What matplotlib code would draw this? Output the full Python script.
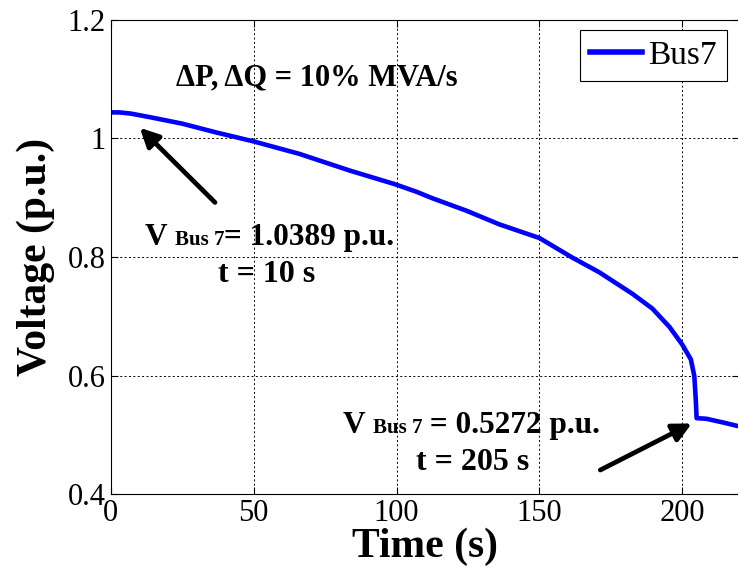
import matplotlib
matplotlib.use('Agg')
import matplotlib.pyplot as plt

plt.rcParams['font.family'] = 'Liberation Serif'

# Bus 7 voltage
time_s = [0, 3, 7, 13.6, 25, 37, 50, 66, 83.5, 99.3, 107, 112.6, 124.5, 136,
          150, 161.5, 171, 182.5, 189.5, 195.5, 200, 203, 204.2, 204.7, 205,
          208.4, 214, 220]
voltage_pu = [1.044, 1.044, 1.042, 1.036, 1.025, 1.010, 0.995, 0.974, 0.946,
              0.923, 0.910, 0.899, 0.878, 0.855, 0.832, 0.799, 0.774, 0.738,
              0.713, 0.682, 0.652, 0.627, 0.599, 0.560, 0.528, 0.527, 0.521,
              0.514]

x_ticks = [0, 50, 100, 150, 200]
y_ticks = [0.4, 0.6, 0.8, 1.0, 1.2]
y_tick_labels = ['0.4', '0.6', '0.8', '1', '1.2']

fig = plt.figure(figsize=(7.38, 5.81), dpi=100)
ax = fig.add_axes([0.150, 0.1497, 0.852, 0.816])

ax.plot(time_s, voltage_pu, color='#0000ff', lw=3.3, label='Bus7')

ax.set_xlim(0, 220)
ax.set_ylim(0.4, 1.2)
ax.set_xticks(x_ticks)
ax.set_yticks(y_ticks)
ax.set_yticklabels(y_tick_labels)
ax.tick_params(direction='in', labelsize=22, top=True, right=True, length=5, width=0.8)
ax.grid(True, color='k', linestyle=(0, (2, 2.5)), linewidth=0.7)
for s in ax.spines.values():
    s.set_linewidth(0.8)

ax.set_xlabel('Time (s)', fontsize=30, fontweight='bold', labelpad=0)
ax.set_ylabel('Voltage (p.u.)', fontsize=30, fontweight='bold', labelpad=9)

leg = ax.legend(loc='upper right', fontsize=24, fancybox=False, framealpha=1,
                edgecolor='k', handlelength=1.56, handletextpad=0.2,
                borderpad=0.3, borderaxespad=0, bbox_to_anchor=(0.985, 0.948),
                bbox_transform=fig.transFigure)
leg.get_frame().set_linewidth(0.8)
leg.get_lines()[0].set_linewidth(4)

ax.text(22.8, 1.09, 'ΔP, ΔQ = 10% MVA/s', fontsize=22, fontweight='bold', va='baseline')


def v_label(x, y, value):
    # "V" big, "Bus 7" small, then the value, all on one baseline
    t1 = ax.text(x, y, 'V ', fontsize=22.5, fontweight='bold', va='baseline')
    t2 = ax.annotate('Bus 7', xy=(1, 0), xycoords=t1, xytext=(0, 1.6),
                     textcoords='offset points', fontsize=15, fontweight='bold',
                     va='bottom')
    ax.annotate(value, xy=(1, 0), xycoords=t2, xytext=(0, -1.6),
                textcoords='offset points', fontsize=22.5, fontweight='bold',
                va='bottom')


v_label(12.0, 0.820, '= 1.0389 p.u.')
ax.text(54.7, 0.758, 't = 10 s', fontsize=23, fontweight='bold', ha='center', va='baseline')
v_label(81.3, 0.503, ' = 0.5272 p.u.')
ax.text(126.8, 0.4405, 't = 205 s', fontsize=23, fontweight='bold', ha='center',
        va='baseline')

arrow = dict(arrowstyle='-|>', color='k', lw=3.4, mutation_scale=28, shrinkA=0, shrinkB=0)
ax.annotate('', xy=(10.2, 1.018), xytext=(36.5, 0.892), arrowprops=arrow)
ax.annotate('', xy=(203.3, 0.519), xytext=(171.3, 0.4405), arrowprops=arrow)

fig.savefig('out.png', dpi=100)
